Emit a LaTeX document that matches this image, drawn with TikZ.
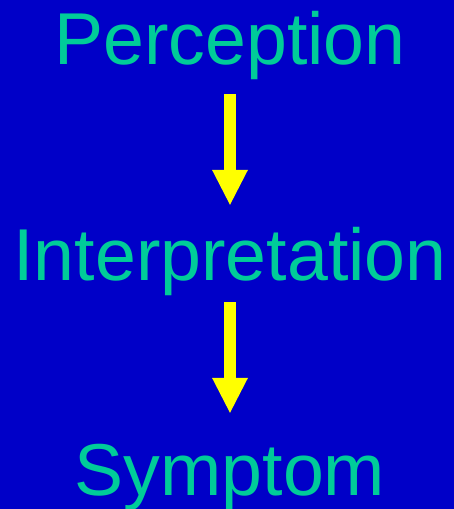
\documentclass[tikz,border=0pt]{standalone}
\usepackage{fontspec}
\setmainfont{Liberation Sans}
\usetikzlibrary{arrows.meta}

\definecolor{bgblue}{RGB}{0,0,200}
\definecolor{wordgreen}{RGB}{0,204,153}
\definecolor{arryellow}{RGB}{255,255,0}

\begin{document}
\begin{tikzpicture}[
  x=1pt, y=-1pt,
  word/.style={anchor=base, inner sep=0pt, text=wordgreen,
               text height=54pt, text depth=16pt,
               font=\fontsize{73.5}{88}\selectfont},
  arr/.style={draw=arryellow, line width=12pt,
              -{Triangle[length=35pt,width=36pt,line width=0pt,fill=arryellow]}}
]

%% ── background ──────────────────────────────────────────────────────────
\fill[bgblue] (0,0) rectangle (454,509);
\useasboundingbox (0,0) rectangle (454,509);

%% ── nodes ───────────────────────────────────────────────────────────────
\node[word] (perc)   at (230,64)  {Perception};
\node[word] (interp) at (230,280) {Interpretation};
\node[word] (symp)   at (230,495) {Symptom};

%% ── edges ───────────────────────────────────────────────────────────────
\draw[arr, shorten <=14pt, shorten >=21pt] (perc.south)   -- (interp.north);
\draw[arr, shorten <=6pt,  shorten >=28pt] (interp.south) -- (symp.north);

\end{tikzpicture}
\end{document}
